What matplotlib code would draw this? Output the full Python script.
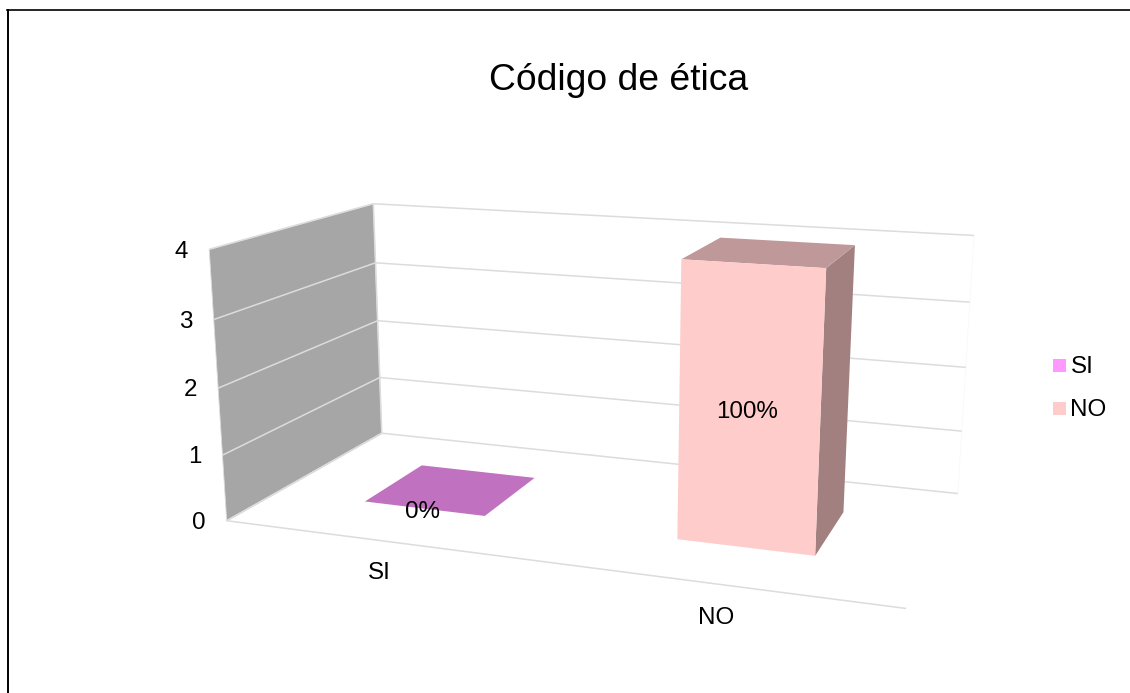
import numpy as np
import matplotlib.pyplot as plt
from matplotlib.patches import Polygon, Rectangle

categories = ['SI', 'NO']
values = [0, 4]
pct_labels = ['0%', '100%']
y_ticks = [0, 1, 2, 3, 4]
top_colors = ['#C071C0', '#BF9999']
legend_colors = ['#FF99FF', '#FFCCCC']

plt.rcParams['font.family'] = ['Liberation Sans', 'DejaVu Sans']

# where the box corners land on the page: (x, value, depth) -> (px, py)
corners_3d = [(0, 0, 0), (0, 4, 0), (0, 4, 1), (0, 0, 1), (1, 4, 1), (1, 0, 1), (1, 0, 0)]
corners_px = [(227, 521), (209, 249), (373.5, 204), (381.5, 433), (974, 235.5), (958, 493.5), (906, 608.5)]

# Camera matrix from the corners
rows = []
for (x, y, z), (u, v) in zip(corners_3d, corners_px):
  rows.append([x, y, z, 1, 0, 0, 0, 0, -u*x, -u*y, -u*z, -u])
  rows.append([0, 0, 0, 0, x, y, z, 1, -v*x, -v*y, -v*z, -v])
cam = np.linalg.svd(np.array(rows, dtype=float))[2][-1].reshape(3, 4)

def project(x, y, z):
  p = cam @ np.array([x, y, z, 1.0])
  return p[0]/p[2], p[1]/p[2]

def face(pts, color, z=3, edge='none'):
  ax.add_patch(Polygon([project(*p) for p in pts], closed=True, facecolor=color, edgecolor=edge, lw=0.6, zorder=z))

def line3d(a, b, color='#DCDCDC', lw=1.1, z=2):
  pa, pb = project(*a), project(*b)
  ax.plot([pa[0], pb[0]], [pa[1], pb[1]], color=color, lw=lw, zorder=z, solid_capstyle='butt')

fig = plt.figure(figsize=(11.3, 6.93), dpi=100)
ax = fig.add_axes([0, 0, 1, 1])
ax.set_xlim(0, 1130)
ax.set_ylim(693, 0)
ax.axis('off')

# page border, only left and top show
ax.plot([7.7, 7.7], [693, 10], color='black', lw=1.4, zorder=1)
ax.plot([7, 1130], [9.8, 9.8], color='black', lw=1.2, zorder=1)

# walls
face([(0, 0, 0), (0, 4, 0), (0, 4, 1), (0, 0, 1)], '#A6A6A6', z=1, edge='#DCDCDC')
line3d((0, 0, 1), (0, 4, 1))
line3d((1, 0, 1), (1, 4, 1), color='#F8F8F8', lw=0.6)
line3d((0, 0, 0), (1, 0, 0))
line3d((0, 0, 0), (0, 0, 1))
for t in y_ticks:
  line3d((0, t, 0), (0, t, 1))
  line3d((0, t, 1), (1, t, 1))
  px, py = project(0, t, 0)
  ax.text(px - 21, py + 2.2, str(t), ha='right', va='center', fontsize=17.4, color='black')

# bars
bar_w = 0.1
depth = (0.3, 0.7)
cat_shift = [(49, 0), (30, -5)]
for i, (cat, val) in enumerate(zip(categories, values)):
  c = (i + 0.5)/len(categories)
  x0, x1 = c - bar_w, c + bar_w
  z0, z1 = depth
  if val > 0:
    face([(x1, 0, z0), (x1, val, z0), (x1, val, z1), (x1, 0, z1)], '#A38080')
    face([(x0, 0, z0), (x0, val, z0), (x1, val, z0), (x1, 0, z0)], legend_colors[i], z=4)
  face([(x0, val, z0), (x1, val, z0), (x1, val, z1), (x0, val, z1)], top_colors[i])
  lx, ly = project(c, val/2, z0)
  ax.text(lx - 1.5, ly + 3.5, pct_labels[i], ha='center', va='center', fontsize=17.4, zorder=5)
  tx, ty = project(c, 0, -0.28)
  ax.text(tx + cat_shift[i][0], ty + cat_shift[i][1], cat, ha='center', va='center', fontsize=17.4)

ax.text(618.5, 80, 'Código de ética', ha='center', va='center', fontsize=26.8)

# legend
legend_y = [365, 408]
for cat, col, ly in zip(categories, legend_colors, legend_y):
  ax.add_patch(Rectangle((1053, ly - 6), 13, 13, facecolor=col, edgecolor='none'))
  ax.text(1070.5, ly + 2, cat, ha='left', va='center', fontsize=17.4)

fig.savefig('out.png', dpi=100)
